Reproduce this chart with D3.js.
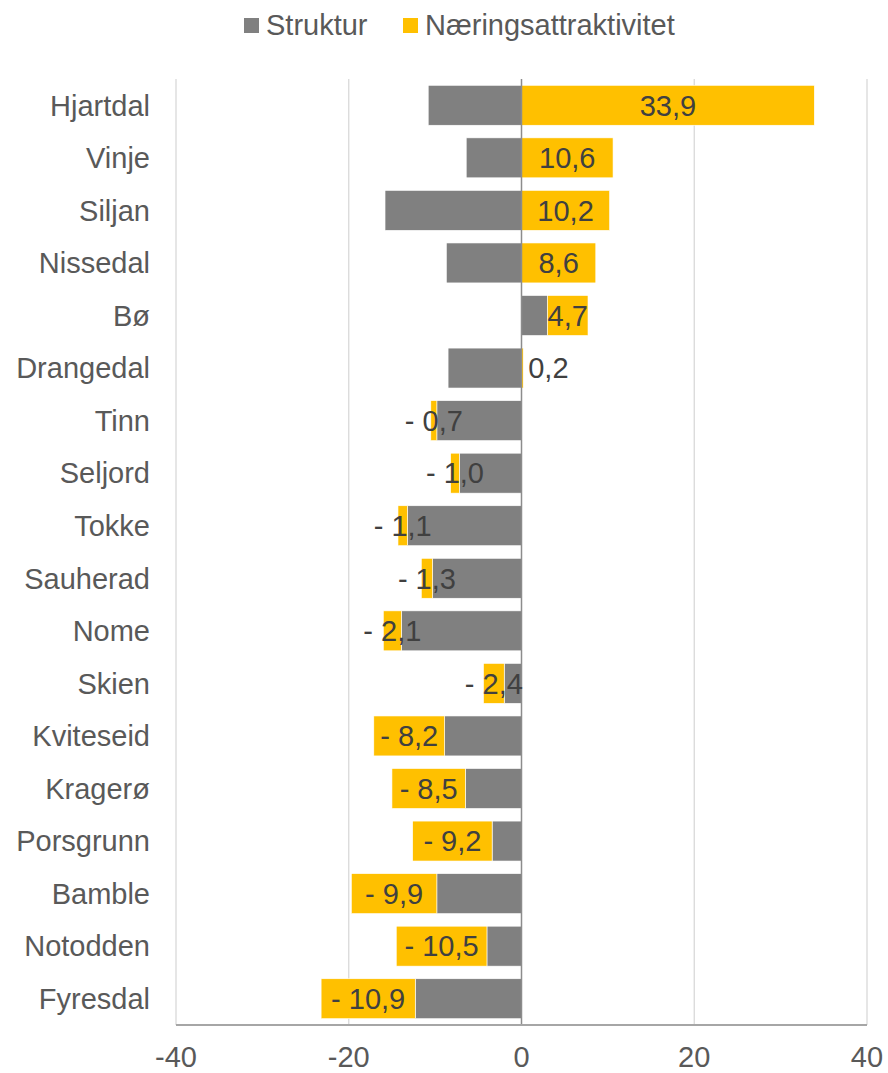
<!DOCTYPE html>
<html>
<head>
<meta charset="utf-8">
<script src="https://cdn.jsdelivr.net/npm/d3@7"></script>
<style>
  html, body { margin: 0; padding: 0; background: #fff; }
  svg { display: block; font-family: "Liberation Sans", Arial, sans-serif; }
</style>
</head>
<body>
<svg id="chart" width="888" height="1073"></svg>
<script>
const categories = ["Hjartdal","Vinje","Siljan","Nissedal","Bø","Drangedal","Tinn","Seljord","Tokke","Sauherad","Nome","Skien","Kviteseid","Kragerø","Porsgrunn","Bamble","Notodden","Fyresdal"];
const struktur = [-10.8, -6.4, -15.8, -8.7, 3.0, -8.5, -9.8, -7.2, -13.2, -10.3, -13.9, -2.0, -8.9, -6.5, -3.4, -9.8, -4.0, -12.3];
const naering = [33.9, 10.6, 10.2, 8.6, 4.7, 0.2, -0.7, -1.0, -1.1, -1.3, -2.1, -2.4, -8.2, -8.5, -9.2, -9.9, -10.5, -10.9];
const seriesNames = ["Struktur", "Næringsattraktivitet"];
const xTicks = [-40, -20, 0, 20, 40];

const colors = { "Struktur": "#808080", "Næringsattraktivitet": "#FFC000" };
const svg = d3.select("#chart");
const FS = 29;

const rows = categories.map((c, i) => ({ cat: c, "Struktur": struktur[i], "Næringsattraktivitet": naering[i] }));

const x = d3.scaleLinear().domain([-40, 40]).range([176, 867]);
const y = d3.scaleBand().domain(categories).range([79, 1025]).paddingInner(0.24).paddingOuter(0.12);

// gridlines
svg.append("g").selectAll("line").data(xTicks.filter(t => t !== 0)).join("line")
  .attr("x1", d => x(d)).attr("x2", d => x(d))
  .attr("y1", 79).attr("y2", 1025)
  .attr("stroke", "#d9d9d9").attr("stroke-width", 1.3);

const stack = d3.stack().keys(seriesNames).offset(d3.stackOffsetDiverging);
const stacked = stack(rows);

const gBars = svg.append("g");
stacked.forEach(layer => {
  gBars.append("g").selectAll("rect").data(layer).join("rect")
    .attr("x", d => x(Math.min(d[0], d[1])))
    .attr("width", d => Math.abs(x(d[1]) - x(d[0])))
    .attr("y", d => y(d.data.cat))
    .attr("height", y.bandwidth())
    .attr("fill", colors[layer.key])
    .attr("stroke", "#ffffff").attr("stroke-width", 0.6);
});

// zero line
svg.append("line")
  .attr("x1", x(0)).attr("x2", x(0)).attr("y1", 79).attr("y2", 1025)
  .attr("stroke", "#8c8c8c").attr("stroke-width", 1.5);

// bottom axis line
svg.append("line")
  .attr("x1", x(-40)).attr("x2", x(40)).attr("y1", 1025).attr("y2", 1025)
  .attr("stroke", "#a6a6a6").attr("stroke-width", 2);

// data labels on Næringsattraktivitet
const fmt = v => {
  const s = Math.abs(v).toFixed(1).replace(".", ",");
  return v < 0 ? "- " + s : s;
};
const nLayer = stacked[1];
const tiny = d => d.data["Næringsattraktivitet"] > 0 && Math.abs(x(d[1]) - x(d[0])) < 5;
svg.append("g").selectAll("text").data(nLayer).join("text")
  .attr("x", d => tiny(d) ? Math.max(x(d[0]), x(d[1])) + 5 : (x(d[0]) + x(d[1])) / 2)
  .attr("text-anchor", d => tiny(d) ? "start" : "middle")
  .attr("y", d => y(d.data.cat) + y.bandwidth() / 2 + FS * 0.355)
  .attr("font-size", FS).attr("fill", "#404040")
  .text(d => fmt(d.data["Næringsattraktivitet"]));

// category labels
svg.append("g").selectAll("text").data(categories).join("text")
  .attr("x", 150)
  .attr("y", d => y(d) + y.bandwidth() / 2 + FS * 0.355)
  .attr("text-anchor", "end")
  .attr("font-size", FS).attr("fill", "#595959")
  .text(d => d);

// x tick labels
svg.append("g").selectAll("text").data(xTicks).join("text")
  .attr("x", d => x(d))
  .attr("y", 1067)
  .attr("text-anchor", "middle")
  .attr("font-size", FS).attr("fill", "#595959")
  .text(d => d);

// legend
const legend = svg.append("g");
const legendPos = [{ sx: 244, tx: 266 }, { sx: 403, tx: 425 }];
seriesNames.forEach((name, i) => {
  legend.append("rect").attr("x", legendPos[i].sx).attr("y", 18).attr("width", 15).attr("height", 15)
    .attr("fill", colors[name]);
  legend.append("text").attr("x", legendPos[i].tx).attr("y", 35)
    .attr("font-size", FS).attr("fill", "#595959").text(name);
});
</script>
</body>
</html>
